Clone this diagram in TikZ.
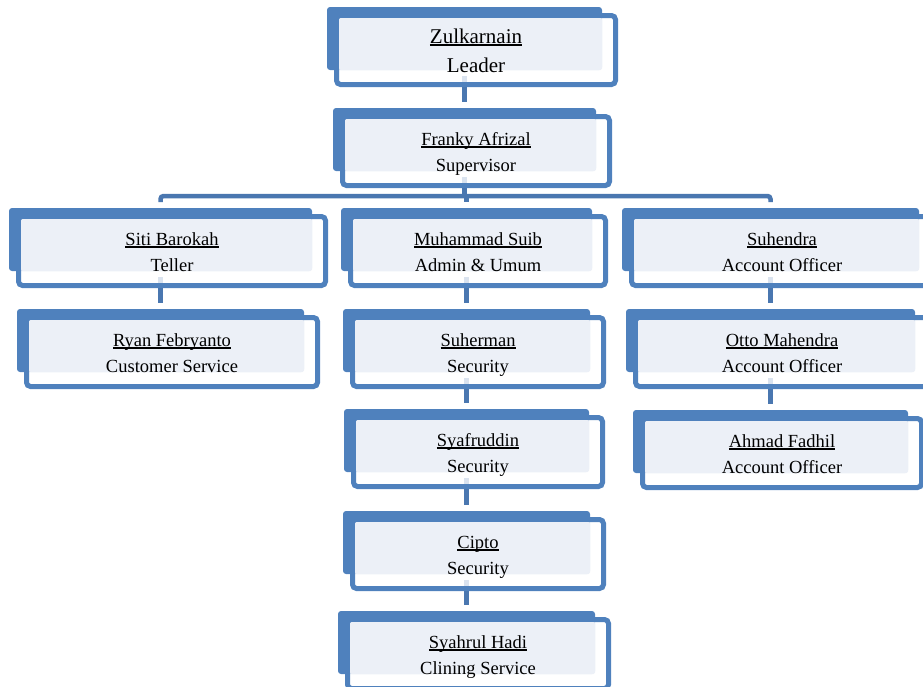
\documentclass[tikz,border=0pt]{standalone}
\usepackage{fontspec}
\setmainfont{Liberation Serif}
\pgfdeclarelayer{background}
\pgfsetlayers{background,main}
\definecolor{backblue}{HTML}{4F81BD}
\definecolor{connblue}{HTML}{4A77B0}
\definecolor{lightfill}{HTML}{ECF0F7}
\newcommand\nameul[1]{\setbox0\hbox{#1}\rlap{\vrule width\wd0 height -1.4pt depth 2.5pt}\box0}
\tikzset{
  backrect/.style={fill=backblue, rounded corners=3pt},
  frontbox/.style={draw=backblue, line width=5pt, fill=white, fill opacity=0.8, rounded corners=4pt, inner sep=0pt},
  innerfill/.style={fill=lightfill, rounded corners=2pt},
  conn/.style={draw=connblue, line width=4.5pt},
  unittext/.style={anchor=base, inner sep=0pt, text=black},
}
% #1 name, #2 x, #3 y, #4 width, #5 person, #6 role, #7 font size, #8 baseline 1, #9 baseline 2
\newcommand\orgunit[9]{%
  \fill[backrect] ({#2},{#3}) rectangle ({#2+#4},{#3+63});
  \node[frontbox, minimum width={(#4+4)*1pt}, minimum height=69pt] (#1) at ({#2+(#4+23)/2},{#3+43}) {};
  \fill[innerfill] ({#2+12},{#3+11}) rectangle ({#2+#4},{#3+63});
  \node[unittext, font=\fontsize{#7}{#7}\selectfont] (#1-n) at ({#2+(#4+23)/2},{#3+#8}) {\nameul{#5}};
  \node[unittext, font=\fontsize{#7}{#7}\selectfont] (#1-r) at ({#2+(#4+23)/2},{#3+#9}) {#6};
  \coordinate (#1-top) at ({#2+#4/2},{#3-6});
  \coordinate (#1-bot) at ({#2+#4/2},{#3+69});
}
\begin{document}
\begin{tikzpicture}[x=1pt,y=-1pt]
\useasboundingbox (0,0) rectangle (923,686);
\clip (0,0) rectangle (923,686);
\orgunit{z}{327}{7}{275}{Zulkarnain}{Leader}{21}{36}{65}
\orgunit{f}{333}{108}{263}{Franky Afrizal}{Supervisor}{18.5}{37}{63}
\orgunit{s}{9}{208}{303}{Siti Barokah}{Teller}{18.5}{37}{63}
\orgunit{m}{341}{208}{251}{Muhammad Suib}{Admin \& Umum}{18.5}{37}{63}
\orgunit{h}{622}{208}{297}{Suhendra}{Account Officer}{18.5}{37}{63}
\orgunit{r}{17}{309}{287}{Ryan Febryanto}{Customer Service}{18.5}{37}{63}
\orgunit{sh}{343}{309}{247}{Suherman}{Security}{18.5}{37}{63}
\orgunit{o}{626}{309}{289}{Otto Mahendra}{Account Officer}{18.5}{37}{63}
\orgunit{sy}{344}{409}{245}{Syafruddin}{Security}{18.5}{37}{63}
\orgunit{a}{633}{410}{275}{Ahmad Fadhil}{Account Officer}{18.5}{37}{63}
\orgunit{c}{343}{511}{247}{Cipto}{Security}{18.5}{37}{63}
\orgunit{sr}{338}{611}{257}{Syahrul Hadi}{Clining Service}{18.5}{37}{63}
\begin{pgfonlayer}{background}
  \coordinate (bus) at (0,196);
  \draw[conn] (z-bot) -- (f-top);
  \draw[conn] (f-bot) -- (f-bot |- bus);
  \draw[conn, rounded corners=3pt] (s-top) -- (s-top |- bus) -- (h-top |- bus) -- (h-top);
  \draw[conn] (m-top |- bus) -- (m-top);
  \draw[conn] (s-bot) -- (r-top);
  \draw[conn] (m-bot) -- (sh-top);
  \draw[conn] (sh-bot) -- (sy-top);
  \draw[conn] (sy-bot) -- (c-top);
  \draw[conn] (c-bot) -- (sr-top);
  \draw[conn] (h-bot) -- (o-top);
  \draw[conn] (o-bot) -- (a-top);
\end{pgfonlayer}
\end{tikzpicture}
\end{document}
